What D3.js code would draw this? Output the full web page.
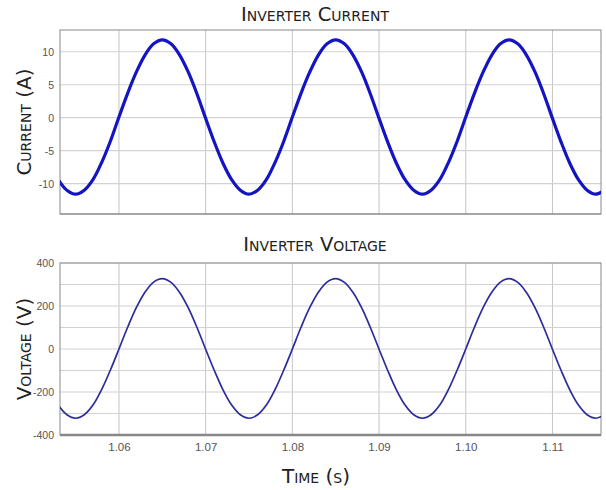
<!DOCTYPE html>
<html>
<head>
<meta charset="utf-8">
<script src="https://cdn.jsdelivr.net/npm/d3@7"></script>
<style>
  body { margin: 0; background: #fff; }
  .title, .axlabel { font-family: "DejaVu Sans", sans-serif; font-variant: small-caps; fill: #222; }
  .tick text { font-family: "Liberation Sans", sans-serif; fill: #555; }
</style>
</head>
<body>
<div id="chart"></div>
<script>
// sample times (s)
var times = [1.053,1.054,1.055,1.056,1.057,1.058,1.059,
  1.060,1.061,1.062,1.063,1.064,1.065,1.066,1.067,1.068,1.069,
  1.070,1.071,1.072,1.073,1.074,1.075,1.076,1.077,1.078,1.079,
  1.080,1.081,1.082,1.083,1.084,1.085,1.086,1.087,1.088,1.089,
  1.090,1.091,1.092,1.093,1.094,1.095,1.096,1.097,1.098,1.099,
  1.100,1.101,1.102,1.103,1.104,1.105,1.106,1.107,1.108,1.109,
  1.110,1.111,1.112,1.113,1.114,1.115,1.116];

// inverter current (A)
var current = [-9.4,-11.0,-11.6,-11.0,-9.4,-6.8,-3.6,
  0.1,3.7,6.9,9.5,11.2,11.8,11.2,9.5,6.9,3.6,-0.1,-3.7,-6.9,-9.4,-11.0,-11.6,-11.0,-9.4,-6.8,-3.6,
  0.1,3.7,6.9,9.5,11.2,11.8,11.2,9.5,6.9,3.6,-0.1,-3.7,-6.9,-9.4,-11.0,-11.6,-11.0,-9.4,-6.8,-3.6,
  0.1,3.7,6.9,9.5,11.2,11.8,11.2,9.5,6.9,3.6,-0.1,-3.7,-6.9,-9.4,-11.0,-11.6,-11.0];

// inverter voltage (V)
var voltage = [-261,-306,-322,-306,-261,-189,-99,
  0,101,192,264,311,327,310,263,191,100,-1,-100,-190,-261,-306,-322,-306,-261,-189,-99,
  0,101,192,264,311,327,310,263,191,100,-1,-100,-190,-261,-306,-322,-306,-261,-189,-99,
  0,101,192,264,311,327,310,263,191,100,-1,-100,-190,-261,-306,-322,-306];

var xTicks = [1.06, 1.07, 1.08, 1.09, 1.10, 1.11];
var xTickLabels = ["1.06", "1.07", "1.08", "1.09", "1.10", "1.11"];
var currentTicks = [-10, -5, 0, 5, 10];
var voltageTicks = [-400, -200, 0, 200, 400];
var voltageGrid = [-300, -100, 100, 300];

var W = 606, H = 490, left = 60, right = 601;

var svg = d3.select("#chart").append("svg")
  .attr("width", W).attr("height", H);

var x = d3.scaleLinear().domain([1.0532, 1.1156]).range([left, right]);

function panel(opts) {
  var y = d3.scaleLinear().domain(opts.domain).range([opts.bottom, opts.top]);
  var g = svg.append("g");
  var id = "clip" + opts.name;

  svg.append("clipPath").attr("id", id)
    .append("rect")
    .attr("x", left).attr("y", opts.top)
    .attr("width", right - left).attr("height", opts.bottom - opts.top);

  // grid
  g.selectAll(".vg").data(xTicks).join("line")
    .attr("x1", d => x(d)).attr("x2", d => x(d))
    .attr("y1", opts.top).attr("y2", opts.bottom)
    .attr("stroke", "#c4c4c4").attr("stroke-width", 1);
  g.selectAll(".hg").data(opts.ticks.concat(opts.extraGrid || [])).join("line")
    .attr("x1", left).attr("x2", right)
    .attr("y1", d => y(d)).attr("y2", d => y(d))
    .attr("stroke", "#d2d2d2").attr("stroke-width", 1.2);

  // axes
  g.append("g")
    .attr("transform", "translate(" + left + ",0)")
    .call(d3.axisLeft(y).tickValues(opts.ticks).tickFormat(d => String(d)).tickSize(0).tickPadding(6))
    .call(a => a.select(".domain").remove())
    .selectAll("text").style("font-size", "10.5px");

  if (opts.showX) {
    g.append("g")
      .attr("transform", "translate(0," + opts.bottom + ")")
      .call(d3.axisBottom(x).tickValues(xTicks).tickFormat((d, i) => xTickLabels[i]).tickSize(0).tickPadding(8))
      .call(a => a.select(".domain").remove())
      .selectAll("text").style("font-size", "11.5px");
  }

  // frame
  g.append("rect")
    .attr("x", left).attr("y", opts.top)
    .attr("width", right - left).attr("height", opts.bottom - opts.top)
    .attr("fill", "none").attr("stroke", "#8a8a8a").attr("stroke-width", 1);
  g.append("line")
    .attr("x1", left).attr("x2", right)
    .attr("y1", opts.bottom).attr("y2", opts.bottom)
    .attr("stroke", "#888").attr("stroke-width", opts.showX ? 2.5 : 1.2);

  var line = d3.line()
    .x((d, i) => x(times[i]))
    .y(d => y(d))
    .curve(d3.curveCatmullRom);

  g.append("path")
    .datum(opts.values)
    .attr("clip-path", "url(#" + id + ")")
    .attr("d", line)
    .attr("fill", "none")
    .attr("stroke", opts.color)
    .attr("stroke-width", opts.width);

  // title
  svg.append("text").attr("class", "title")
    .attr("x", 315).attr("y", opts.titleY)
    .attr("text-anchor", "middle")
    .style("font-size", "19.5px")
    .text(opts.title);

  // y label
  svg.append("text").attr("class", "axlabel")
    .attr("transform", "translate(31," + ((opts.top + opts.bottom) / 2) + ") rotate(-90)")
    .attr("text-anchor", "middle")
    .style("font-size", "20px")
    .text(opts.ylabel);
}

panel({name: "cur", top: 30, bottom: 214, domain: [-14.6, 13.3], ticks: currentTicks,
  values: current, color: "#1414c2", width: 3.2, title: "Inverter Current",
  titleY: 21, ylabel: "Current (A)", showX: false});

panel({name: "volt", top: 263, bottom: 435, domain: [-400, 400], ticks: voltageTicks,
  extraGrid: voltageGrid, values: voltage, color: "#2c2c9c", width: 1.7,
  title: "Inverter Voltage", titleY: 251, ylabel: "Voltage (V)", showX: true});

svg.append("text").attr("class", "axlabel")
  .attr("x", 316).attr("y", 483)
  .attr("text-anchor", "middle")
  .style("font-size", "20px")
  .text("Time (s)");
</script>
</body>
</html>
